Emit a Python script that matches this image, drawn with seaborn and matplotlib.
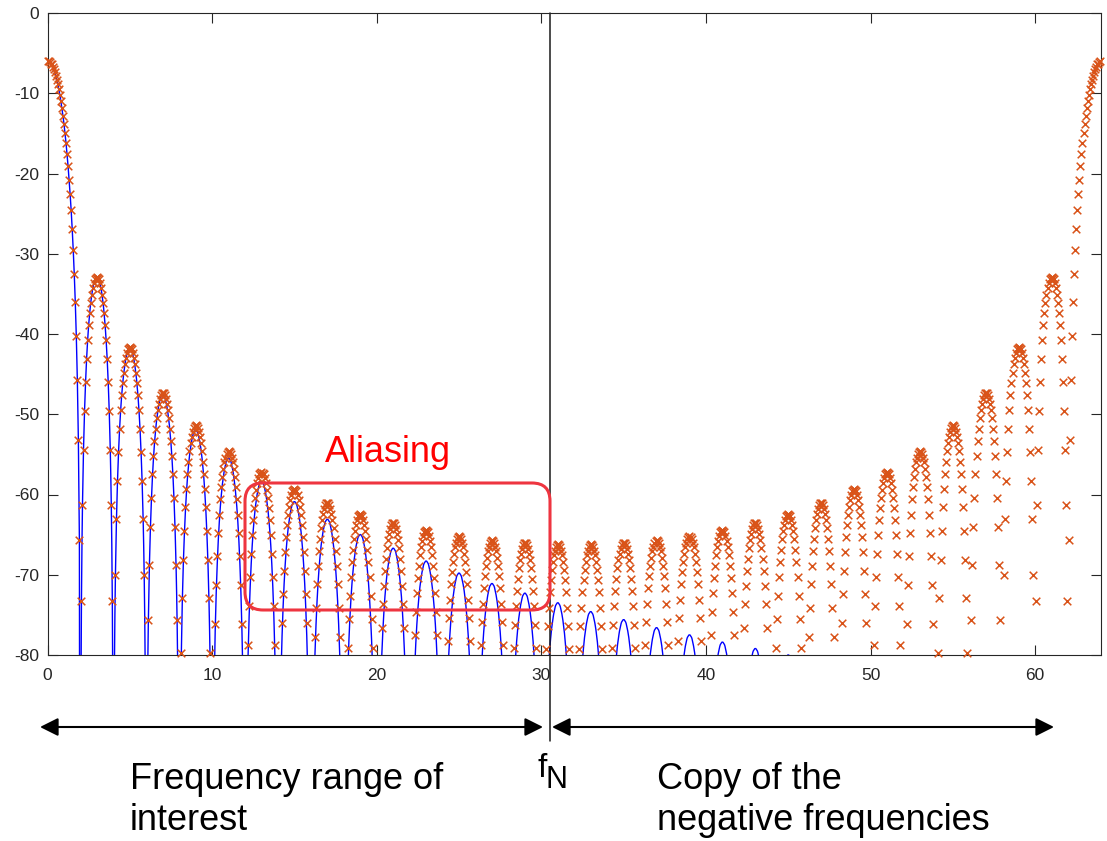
import matplotlib
matplotlib.use("Agg")
import matplotlib.pyplot as plt
import matplotlib.transforms as mtransforms
import numpy as np
import pandas as pd
import seaborn as sns
from matplotlib.patches import FancyArrowPatch, FancyBboxPatch

# ---- values (dB) ----
# main lobe at 0 Hz, one value every 1/16 from 0 to 1.9375
main_lobe_db = [-6.0, -6.0, -6.1, -6.3, -6.4, -6.7, -7.0, -7.4, -7.8, -8.3, -8.9,
                -9.5, -10.2, -11.0, -11.9, -12.8, -13.8, -15.0, -16.2, -17.6, -19.1,
                -20.8, -22.6, -24.6, -26.9, -29.5, -32.5, -36.0, -40.3, -45.7, -53.2,
                -65.7]

# one side lobe, from the null up to its top, step 1/32 (drop below the top)
NULL_DB = -150.0  # nulls fall far below the -80 floor
lobe_half_shape_db = [NULL_DB, -52.4, -40.4, -33.3, -28.4, -24.6, -21.5, -18.9,
                      -16.7, -14.8, -13.1, -11.6, -10.2, -9.0, -7.9, -6.9, -6.0,
                      -5.2, -4.5, -3.8, -3.2, -2.7, -2.2, -1.8, -1.4, -1.1, -0.8,
                      -0.5, -0.3, -0.2, -0.1, 0.0, 0.0]

# side lobe tops of the continuous spectrum (blue), lobes centred at 3, 5, ... 47
blue_lobe_centres = list(range(3, 49, 2))
blue_peak_db = [-32.9, -41.8, -47.6, -52.0, -55.5, -58.4, -60.9, -63.1, -65.0,
                -66.7, -68.3, -69.8, -71.1, -72.3, -73.5, -74.6, -75.6, -76.6,
                -77.5, -78.4, -79.2, -80.0, -80.7]

# side lobe tops of the sampled spectrum (orange x), lobes at 3, 5, ... 31
orange_lobe_centres = list(range(3, 33, 2))
orange_peak_db = [-32.9, -41.6, -47.3, -51.4, -54.6, -57.2, -59.3, -61.0, -62.4,
                  -63.5, -64.4, -65.2, -65.7, -66.0, -66.2]

F_MAX = 64
DB_MIN = -80
F_N_MARK = 30.5  # where the f_N line was drawn on the slide

# ---- build the tables ----
shape = np.array(lobe_half_shape_db + lobe_half_shape_db[-2:0:-1])
main_x = np.arange(len(main_lobe_db)) / 16

bx, by = [main_x], [np.array(main_lobe_db)]
for c, p in zip(blue_lobe_centres, blue_peak_db):
    bx.append(c - 1 + np.arange(len(shape)) / 32)
    by.append(p + shape)
blue = pd.DataFrame({"freq": np.concatenate(bx), "db": np.concatenate(by)})

ox, oy = [main_x], [np.array(main_lobe_db)]
for c, p in zip(orange_lobe_centres, orange_peak_db):
    ox.append(c - 1 + np.arange(len(shape) // 2) / 16)
    oy.append(p + shape[::2])
ox, oy = np.concatenate(ox), np.concatenate(oy)
# upper half of the DFT is a mirror copy of the lower half
mirror = ox > 0
orange = pd.DataFrame({"freq": np.concatenate([ox, F_MAX - ox[mirror]]),
                       "db": np.concatenate([oy, oy[mirror]])})
# like MATLAB: points off the y range are dropped, markers on the edge drawn whole
orange = orange[orange["db"] >= DB_MIN]

# ---- plot ----
sns.set_theme(style="ticks")
plt.rcParams["font.family"] = ["Liberation Sans", "DejaVu Sans"]
plt.rcParams["axes.unicode_minus"] = False

W, H = 1107, 841
fig = plt.figure(figsize=(W / 100, H / 100), dpi=100)
ax = fig.add_axes([47.5 / W, 1 - 655 / H, (1101 - 47.5) / W, (655 - 13) / H])

sns.lineplot(data=blue, x="freq", y="db", color="#0000FF", linewidth=1.0,
             sort=False, estimator=None, ax=ax)
sns.scatterplot(data=orange, x="freq", y="db", marker="x", color="#D95319",
                s=30, linewidth=1.1, zorder=3, clip_on=False, ax=ax)

ax.set_xlim(0, F_MAX)
ax.set_ylim(DB_MIN, 0)
ax.set_xticks(range(0, 61, 10))
ax.set_yticks(range(-80, 1, 10))
ax.set_xlabel("")
ax.set_ylabel("")
for sp in ax.spines.values():
    sp.set_visible(True)
    sp.set_color("#262626")
    sp.set_linewidth(0.8)
ax.tick_params(direction="in", top=True, right=True, length=7, width=0.8,
               color="#262626", labelcolor="#262626", labelsize=12.5)
ax.tick_params(axis="x", pad=9)
ax.tick_params(axis="y", pad=6)

# f_N marker line
trans = mtransforms.blended_transform_factory(ax.transData, ax.transAxes)
ax.plot([F_N_MARK, F_N_MARK], [1, -0.134], transform=trans, clip_on=False,
        color="#1a1a1a", linewidth=1.1)


def px(x, y):
    return x / W, 1 - y / H


# range arrows
for x0, x1 in [(40, 543), (552, 1054)]:
    fig.add_artist(FancyArrowPatch(px(x0, 727), px(x1, 727), transform=fig.transFigure,
                                   arrowstyle="<|-|>,head_length=1.1,head_width=0.55",
                                   mutation_scale=10, linewidth=1.5, color="black",
                                   shrinkA=0, shrinkB=0))

# aliasing box
fig.add_artist(FancyBboxPatch((2.45, (H - 610) / 100), 3.05, 1.27,
                              boxstyle="round,pad=0,rounding_size=0.18",
                              transform=fig.dpi_scale_trans, fill=False,
                              edgecolor="#EE3540", linewidth=2.2))
fig.text(*px(388, 462), "Aliasing", color="#FF0000", fontsize=26,
         ha="center", va="baseline")

big = dict(fontsize=26, color="black", ha="left", va="baseline")
fig.text(*px(130, 789), "Frequency range of", **big)
fig.text(*px(130, 830), "interest", **big)
fig.text(*px(657, 789), "Copy of the", **big)
fig.text(*px(657, 830), "negative frequencies", **big)
fig.text(*px(537, 777), "f", fontsize=24, color="black", ha="left", va="baseline")
fig.text(*px(546, 788), "N", fontsize=22, color="black", ha="left", va="baseline")

fig.savefig("out.png", dpi=100)
